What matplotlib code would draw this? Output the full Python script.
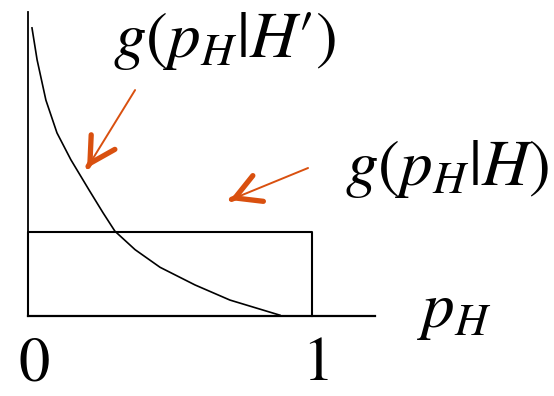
import matplotlib
matplotlib.use("Agg")
import matplotlib.pyplot as plt

plt.rcParams['mathtext.fontset'] = 'stix'
plt.rcParams['font.family'] = 'STIXGeneral'

# curve g(p_H|H')
curve_x = [0.014, 0.032, 0.063, 0.102, 0.151, 0.215, 0.264, 0.306, 0.377, 0.465, 0.588, 0.711, 0.887]
curve_y = [3.43, 3.05, 2.57, 2.18, 1.86, 1.50, 1.23, 1.01, 0.79, 0.58, 0.37, 0.19, 0.01]

# uniform g(p_H|H)
rect_x = [0, 0, 1, 1]
rect_y = [0, 1, 1, 0]

tick_pos = [0, 1]
tick_labels = ['0', '1']

orange = '#D9500F'

fig = plt.figure(figsize=(5.54, 3.96), dpi=100)
ax = fig.add_axes([0, 0, 1, 1])
ax.set_xlim(-0.0986, 1.852)
ax.set_ylim(-0.952, 3.762)
ax.axis('off')

# axes
ax.plot([0, 0], [0, 3.62], color='black', lw=1.3)
ax.plot([0, 1.222], [0, 0], color='black', lw=1.6)

ax.plot(rect_x, rect_y, color='black', lw=1.5)
ax.plot(curve_x, curve_y, color='black', lw=1.2)

def arrow(tail, tip):
    ax.annotate('', xy=tip, xytext=tail,
                arrowprops=dict(arrowstyle='-', color=orange, lw=1.4,
                                shrinkA=0, shrinkB=0))
    dx = tail[0] - tip[0]
    dy = tail[1] - tip[1]
    near = (tip[0] + dx * 0.02, tip[1] + dy * 0.02)
    ax.annotate('', xy=tip, xytext=near,
                arrowprops=dict(arrowstyle='->,head_length=0.9,head_width=0.5',
                                color=orange, lw=3.8, mutation_scale=20,
                                shrinkA=0, shrinkB=0, capstyle='round',
                                joinstyle='round'))

arrow((0.377, 2.69), (0.208, 1.762))
arrow((0.986, 1.762), (0.711, 1.381))

fs = 47
ax.text(0.299, 3.08, r"$g(p_H|H\prime)$", fontsize=fs, va='baseline', ha='left')
ax.text(1.116, 1.56, r"$g(p_H|H)$", fontsize=fs, va='baseline', ha='left')
ax.text(1.37, -0.13, r"$p_H$", fontsize=fs, va='baseline', ha='left')
for xp, lab in zip(tick_pos, tick_labels):
    ax.text(xp + 0.02, -0.93, lab, fontsize=45, va='bottom', ha='center')

fig.savefig('out.png', dpi=100)
